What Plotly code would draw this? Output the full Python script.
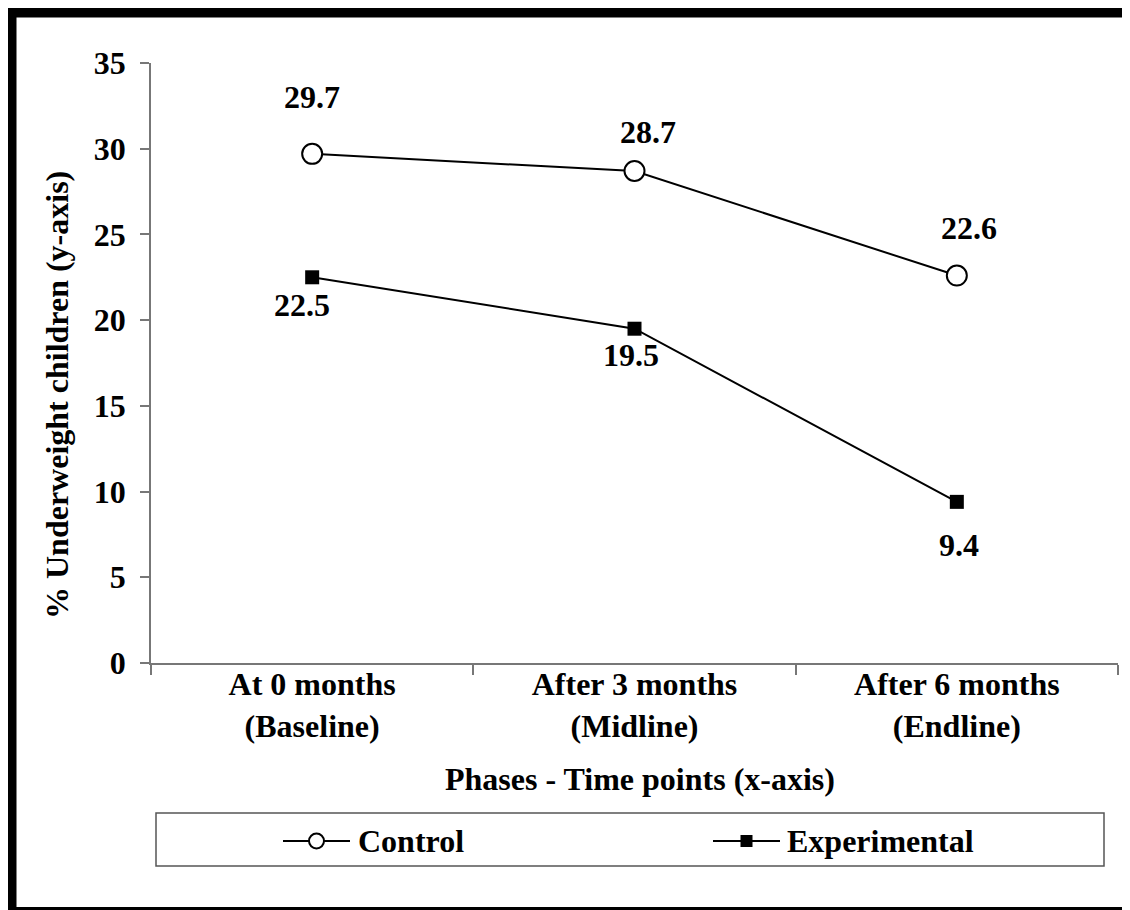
import plotly.graph_objects as go

# ---- data ----
categories = ["At 0 months<br>(Baseline)", "After 3 months<br>(Midline)", "After 6 months<br>(Endline)"]
control = [29.7, 28.7, 22.6]
experimental = [22.5, 19.5, 9.4]
series_names = ["Control", "Experimental"]
y_ticks = [0, 5, 10, 15, 20, 25, 30, 35]
x_title = "Phases - Time points (x-axis)"
y_title = "% Underweight children (y-axis)"

# ---- style / layout (page pixels; the page body adds an 8px offset) ----
OFF = 8
W, H = 1130 - OFF, 910 - OFF
PL, PR, PT, PB = 151, 1118, 63, 663
FONT = "Liberation Serif"
FS = 32
ctrl_label_shift = [(0, 57), (13, 39), (12, 48)]
exp_label_shift = [(-10, -28), (-4, -26), (2, -43)]

def px(x):
    return (x - OFF) / W

def py(y):
    return 1 - (y - OFF) / H

fnt = dict(family=FONT, size=FS, color="black", weight="bold")

fig = go.Figure()
fig.add_trace(go.Scatter(
    x=categories, y=control, mode="lines+markers", name=series_names[0],
    line=dict(color="black", width=2),
    marker=dict(symbol="circle", size=20, color="white", line=dict(color="black", width=2)),
    showlegend=False, xaxis="x", yaxis="y"))
fig.add_trace(go.Scatter(
    x=categories, y=experimental, mode="lines+markers", name=series_names[1],
    line=dict(color="black", width=2),
    marker=dict(symbol="square", size=14, color="black", line=dict(color="black", width=0)),
    showlegend=False, xaxis="x", yaxis="y"))

annotations = []
for c, v, (dx, dy) in zip(categories, control, ctrl_label_shift):
    annotations.append(dict(x=c, y=v, xref="x", yref="y", text=f"{v}", showarrow=False,
                            xshift=dx, yshift=dy, font=fnt))
for c, v, (dx, dy) in zip(categories, experimental, exp_label_shift):
    annotations.append(dict(x=c, y=v, xref="x", yref="y", text=f"{v}", showarrow=False,
                            xshift=dx, yshift=dy, font=fnt))

annotations.append(dict(x=px(640), y=py(779), xref="paper", yref="paper", text=x_title,
                        showarrow=False, font=fnt, xanchor="center", yanchor="middle"))
annotations.append(dict(x=px(57), y=py(395), xref="paper", yref="paper", text=y_title,
                        showarrow=False, font=fnt, textangle=-90, xanchor="center", yanchor="middle"))

# ---- legend (drawn on a pixel-scaled overlay axis) ----
LEG_Y = 841
leg_items = [
    dict(x0=283, x1=350, text_x=356, symbol="circle", size=15, fill="white", lw=2),
    dict(x0=713, x1=780, text_x=785, symbol="square", size=12, fill="black", lw=0),
]
for name, it in zip(series_names, leg_items):
    fig.add_trace(go.Scatter(x=[it["x0"], it["x1"]], y=[LEG_Y, LEG_Y], mode="lines",
                             line=dict(color="black", width=2), showlegend=False,
                             hoverinfo="skip", xaxis="x2", yaxis="y2"))
    fig.add_trace(go.Scatter(x=[(it["x0"] + it["x1"]) / 2], y=[LEG_Y], mode="markers",
                             marker=dict(symbol=it["symbol"], size=it["size"], color=it["fill"],
                                         line=dict(color="black", width=it["lw"])),
                             showlegend=False, hoverinfo="skip", xaxis="x2", yaxis="y2"))
    annotations.append(dict(x=px(it["text_x"]), y=py(LEG_Y), xref="paper", yref="paper",
                            text=name, showarrow=False, font=fnt,
                            xanchor="left", yanchor="middle"))

shapes = [
    # outer thick frame
    dict(type="rect", xref="paper", yref="paper", x0=px(11.5), x1=px(1131), y0=py(912), y1=py(12.5),
         line=dict(color="black", width=10), fillcolor="rgba(0,0,0,0)", layer="above"),
    # legend box
    dict(type="rect", xref="paper", yref="paper", x0=px(156), x1=px(1104), y0=py(866), y1=py(813),
         line=dict(color="#555555", width=1.5), fillcolor="rgba(0,0,0,0)"),
]

fig.update_layout(
    width=W, height=H,
    margin=dict(l=0, r=0, t=0, b=0, pad=0),
    paper_bgcolor="white", plot_bgcolor="rgba(0,0,0,0)",
    font=fnt,
    showlegend=False,
    xaxis=dict(domain=[px(PL), px(PR)], anchor="y", type="category", range=[-0.5, 2.5],
               tickson="boundaries", ticks="outside", ticklen=10, tickcolor="#777777", tickwidth=1.5,
               showline=True, linecolor="#777777", linewidth=1.5, showgrid=False, zeroline=False,
               tickfont=fnt, ticklabelstandoff=-8, automargin=False, fixedrange=True),
    yaxis=dict(domain=[py(PB), py(PT)], anchor="x", range=[0, 35], tickvals=y_ticks,
               ticks="outside", ticklen=9, tickcolor="#777777", tickwidth=1.5,
               showline=True, linecolor="#777777", linewidth=1.5, showgrid=False, zeroline=False,
               tickfont=fnt, ticklabelstandoff=8, automargin=False, fixedrange=True),
    xaxis2=dict(domain=[0, 1], anchor="y2", range=[OFF, OFF + W], visible=False, fixedrange=True),
    yaxis2=dict(domain=[0, 1], anchor="x2", range=[OFF + H, OFF], visible=False, fixedrange=True),
    annotations=annotations,
    shapes=shapes,
)

fig.write_html("out.html")
